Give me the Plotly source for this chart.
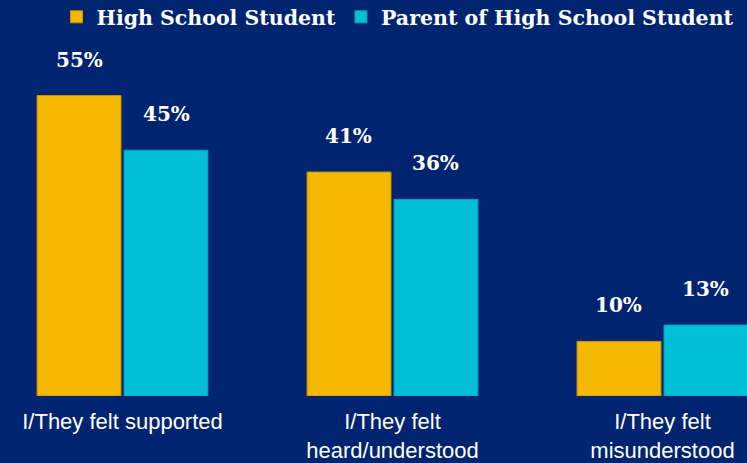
import plotly.graph_objects as go

categories = ["I/They felt supported", "I/They felt<br>heard/understood", "I/They felt<br>misunderstood"]
series_names = ["High School Student", "Parent of High School Student"]
student = [55, 41, 10]
parent = [45, 36, 13]
student_labels = ["55%", "41%", "10%"]
parent_labels = ["45%", "36%", "13%"]

BG = "#002470"
GOLD = "#F5B800"
CYAN = "#00BFD6"
SERIF = "Georgia, 'DejaVu Serif', serif"
SANS = "Arial, 'Liberation Sans', sans-serif"

fig = go.Figure()
fig.add_trace(go.Bar(x=categories, y=student, name=series_names[0],
                     marker=dict(color=GOLD, line=dict(color="#C99700", width=1))))
fig.add_trace(go.Bar(x=categories, y=parent, name=series_names[1],
                     marker=dict(color=CYAN, line=dict(color="#00A3B8", width=1))))

for cat, v, t in zip(categories, student, student_labels):
    fig.add_annotation(x=cat, y=v, text=t, showarrow=False, xshift=-43.5, yshift=36,
                       yanchor="middle", font=dict(family=SERIF, size=20, color="white", weight="bold"))
for cat, v, t in zip(categories, parent, parent_labels):
    fig.add_annotation(x=cat, y=v, text=t, showarrow=False, xshift=43.5, yshift=36,
                       yanchor="middle", font=dict(family=SERIF, size=20, color="white", weight="bold"))

fig.update_layout(
    width=747, height=463,
    margin=dict(l=0, r=0, t=0, b=67, autoexpand=False),
    paper_bgcolor=BG, plot_bgcolor=BG,
    barmode="group", bargap=0.356, bargroupgap=0.035,
    showlegend=True,
    legend=dict(orientation="h", x=0.990, xanchor="right", y=1.0076, yanchor="top",
                font=dict(family=SERIF, size=20.5, color="white", weight="bold"),
                bgcolor="rgba(0,0,0,0)", itemclick=False, traceorder="normal"),
    xaxis=dict(type="category", range=[-0.4537, 2.313], showgrid=False, showline=False,
               zeroline=False, ticks="", ticklabelstandoff=10,
               tickfont=dict(family=SANS, size=22, color="white")),
    yaxis=dict(range=[0, 72.5], visible=False, showgrid=False, zeroline=False),
)

fig.write_html("out.html", config={"displayModeBar": False},
               post_script="document.body.style.margin='0';document.body.style.overflow='hidden';")
